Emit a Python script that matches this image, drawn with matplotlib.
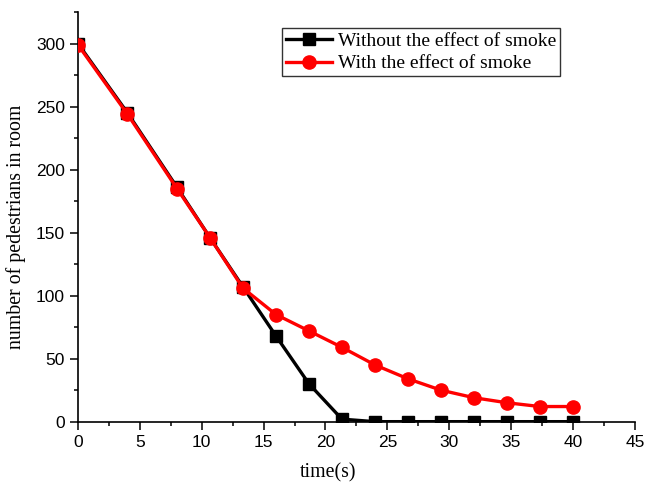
import matplotlib.pyplot as plt
from matplotlib.ticker import MultipleLocator

time_s = [0, 4, 8, 10.67, 13.33, 16, 18.67, 21.33, 24, 26.67, 29.33, 32, 34.67, 37.33, 40]
no_smoke = [300, 245, 186, 146, 107, 68, 30, 2, 0, 0, 0, 0, 0, 0, 0]
with_smoke = [299, 244, 185, 146, 106, 85, 72, 59, 45, 34, 25, 19, 15, 12, 12]

fig = plt.figure(figsize=(6.46, 4.83), dpi=100)
ax = fig.add_axes([0.1207, 0.127, 0.862, 0.848])

ax.plot(time_s, no_smoke, color='black', lw=2.4, marker='s', ms=8.5,
        label='Without the effect of smoke', zorder=3)
ax.plot(time_s, with_smoke, color='red', lw=2.4, marker='o', ms=9.5,
        label='With the effect of smoke', zorder=4)

ax.set_xlim(0, 45)
ax.set_ylim(0, 325)
ax.xaxis.set_major_locator(MultipleLocator(5))
ax.xaxis.set_minor_locator(MultipleLocator(2.5))
ax.yaxis.set_major_locator(MultipleLocator(50))
ax.yaxis.set_minor_locator(MultipleLocator(25))
ax.tick_params(which='major', direction='out', length=6, width=1.1, labelsize=12.5)
ax.tick_params(which='minor', direction='out', length=3, width=1.1)
for lab in ax.get_xticklabels() + ax.get_yticklabels():
    lab.set_family('Liberation Sans')

ax.spines['top'].set_visible(False)
ax.spines['right'].set_visible(False)
ax.spines['left'].set_linewidth(1.2)
ax.spines['bottom'].set_linewidth(1.2)

ax.set_xlabel('time(s)', family='Liberation Serif', fontsize=14.3)
ax.set_ylabel('number of pedestrians in room', family='Liberation Serif', fontsize=14.3)
ax.xaxis.set_label_coords(0.449, -0.101)
ax.yaxis.set_label_coords(-0.093, 0.475)

leg = ax.legend(loc='upper left', bbox_to_anchor=(0.436, 0.941), bbox_transform=fig.transFigure,
                prop={'family': 'Liberation Serif', 'size': 14}, frameon=True, fancybox=False,
                edgecolor='black', handlelength=2.4, borderpad=0.2, labelspacing=0.25,
                handletextpad=0.3, borderaxespad=0)
leg.get_frame().set_linewidth(1.0)

fig.savefig('out.png', dpi=100)
